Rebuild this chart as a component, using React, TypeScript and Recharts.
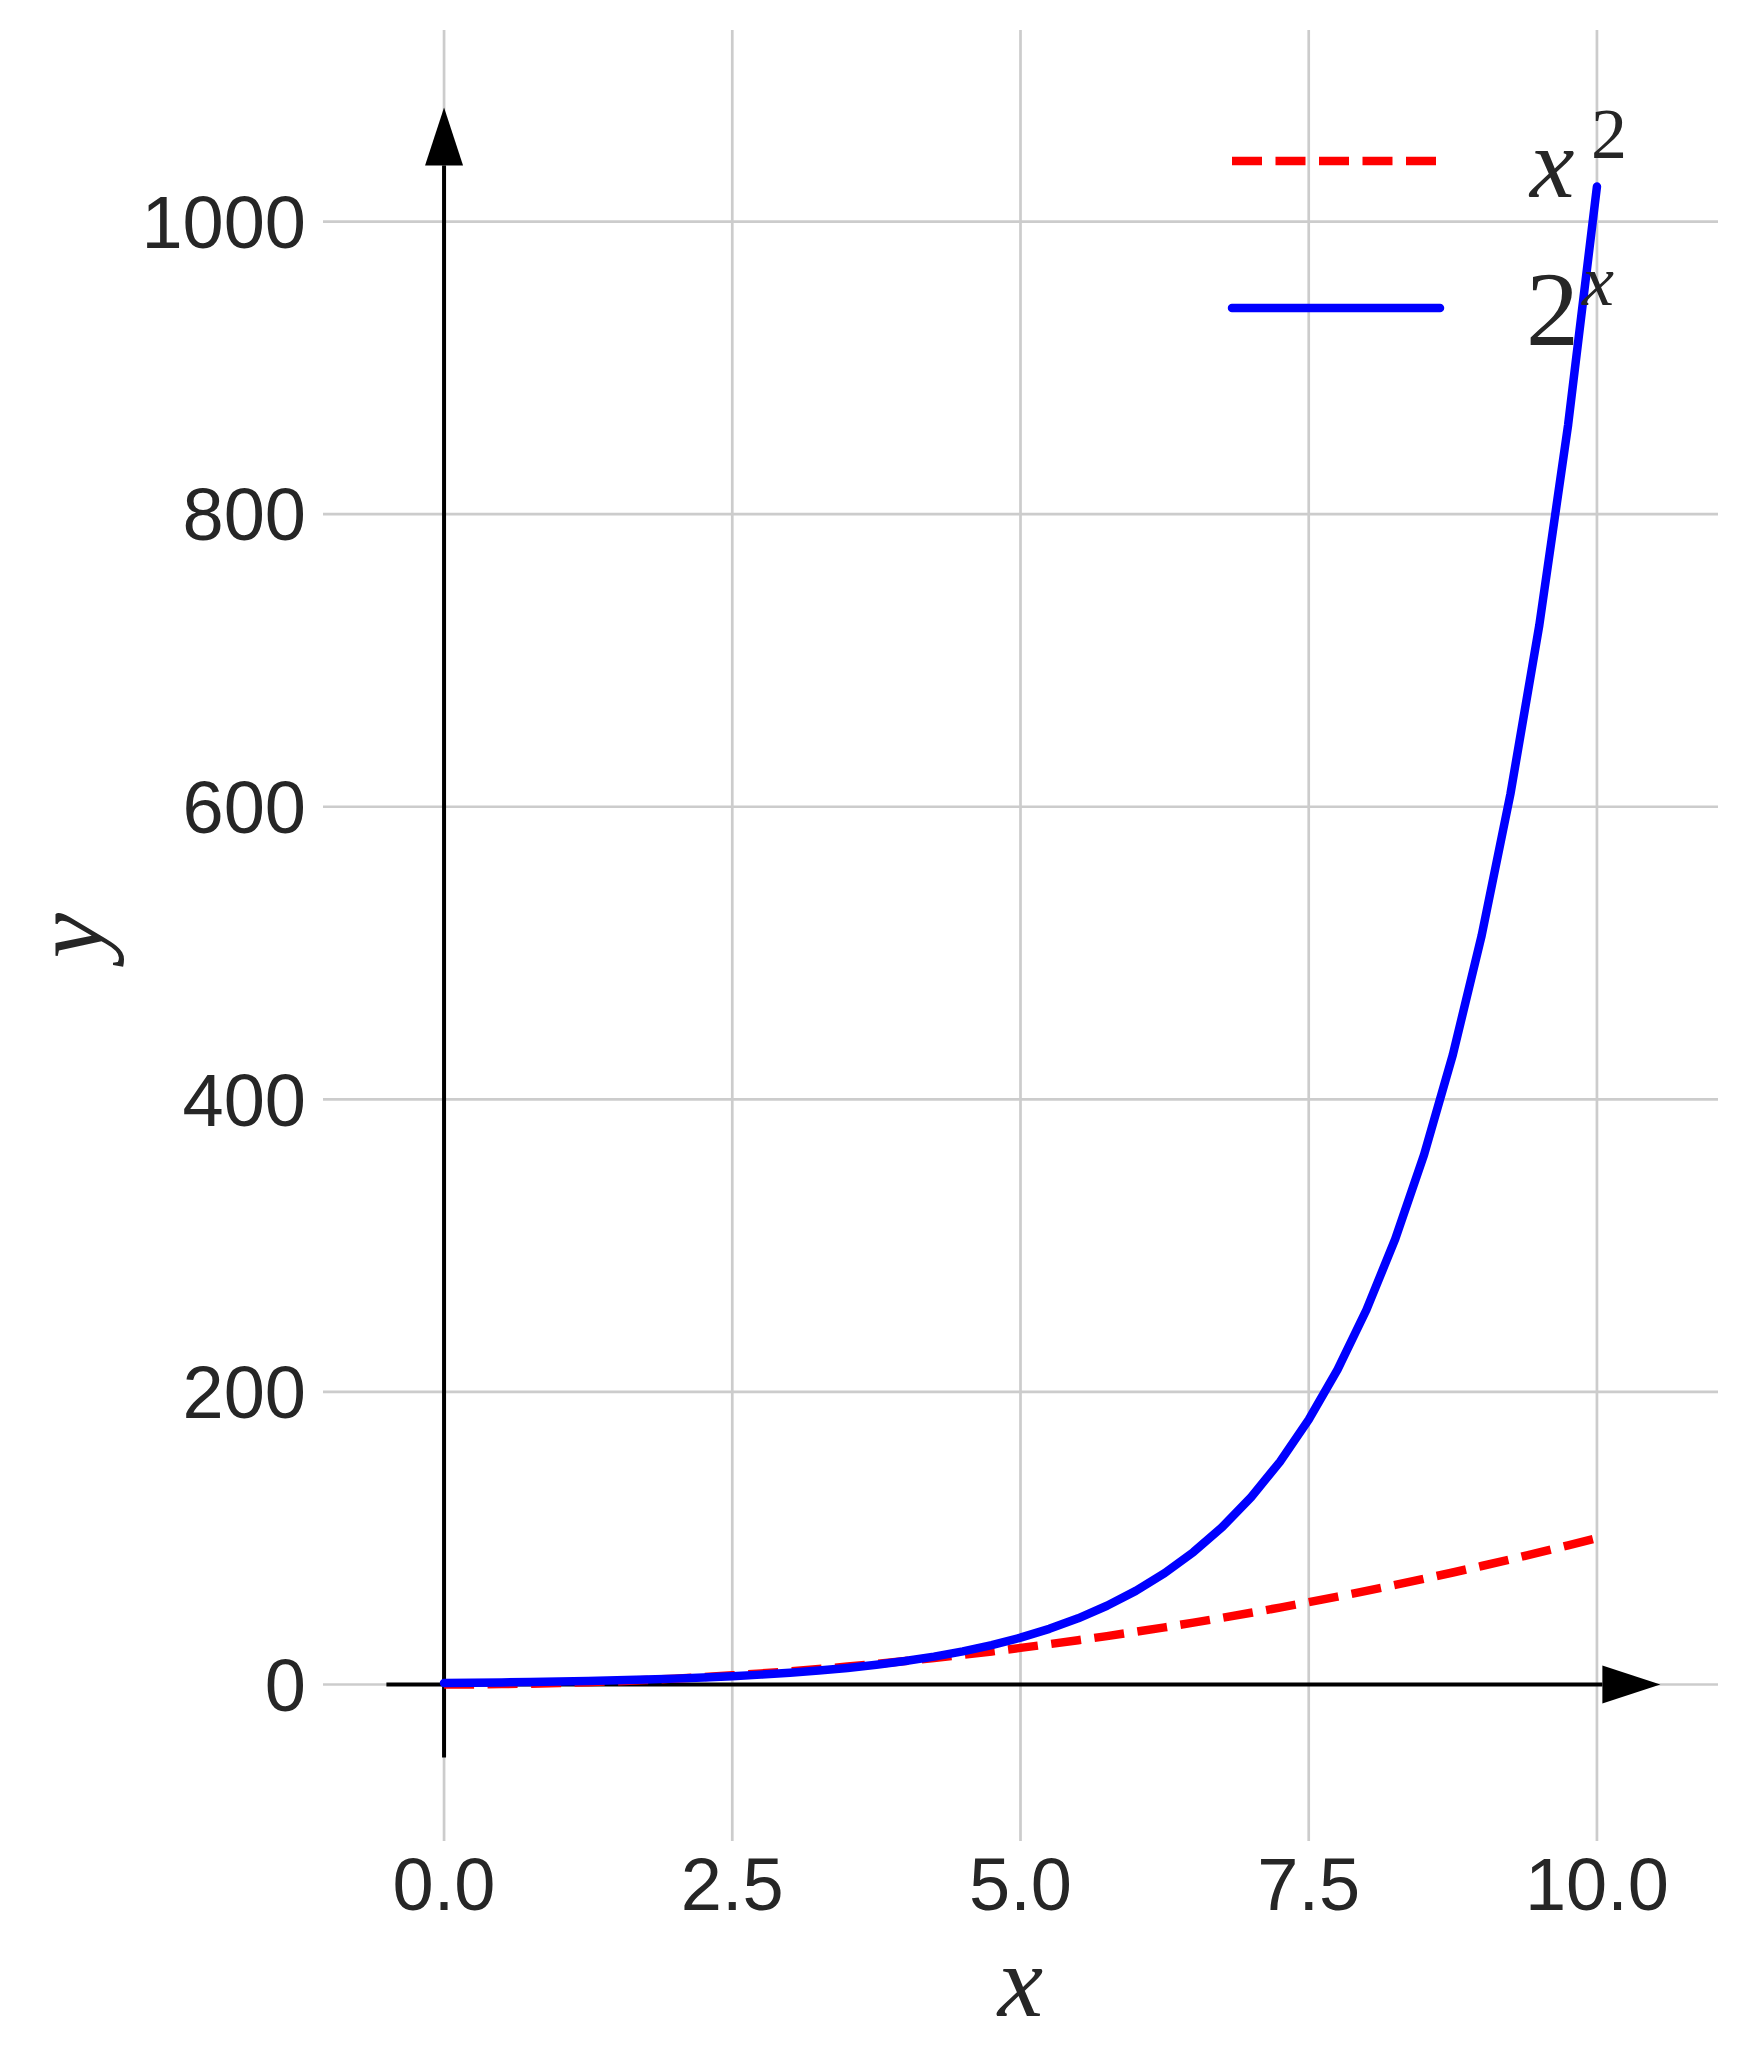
import React from "react";
import {
  LineChart,
  Line,
  XAxis,
  YAxis,
  CartesianGrid,
  ReferenceLine,
  Legend,
} from "recharts";

// sample points along x
const xValues = [
  0, 0.25, 0.5, 0.75, 1, 1.25, 1.5, 1.75, 2, 2.25, 2.5, 2.75, 3, 3.25, 3.5,
  3.75, 4, 4.25, 4.5, 4.75, 5, 5.25, 5.5, 5.75, 6, 6.25, 6.5, 6.75, 7, 7.25,
  7.5, 7.75, 8, 8.25, 8.5, 8.75, 9, 9.25, 9.5, 9.75, 10,
];

const squareValues = [
  0, 0.06, 0.25, 0.56, 1, 1.56, 2.25, 3.06, 4, 5.06, 6.25, 7.56, 9, 10.56,
  12.25, 14.06, 16, 18.06, 20.25, 22.56, 25, 27.56, 30.25, 33.06, 36, 39.06,
  42.25, 45.56, 49, 52.56, 56.25, 60.06, 64, 68.06, 72.25, 76.56, 81, 85.56,
  90.25, 95.06, 100,
];

const powerValues = [
  1, 1.19, 1.41, 1.68, 2, 2.38, 2.83, 3.36, 4, 4.76, 5.66, 6.73, 8, 9.51,
  11.31, 13.45, 16, 19.03, 22.63, 26.91, 32, 38.05, 45.25, 53.82, 64, 76.11,
  90.51, 107.6, 128, 152.2, 181, 215.3, 256, 304.4, 362, 430.5, 512, 608.9,
  724.1, 861.1, 1024,
];

const xTicks = [0, 2.5, 5, 7.5, 10];
const yTicks = [0, 200, 400, 600, 800, 1000];

// axis arrows: start and tip, in data units
const xArrow = [-0.5, 10.55];
const yArrow = [-50, 1078];

const data = xValues.map((x, i) => ({
  x,
  square: squareValues[i],
  power: powerValues[i],
}));

const tickStyle = {
  fontFamily: '"Liberation Sans", Arial, sans-serif',
  fontSize: 74,
  fill: "#262626",
};

const mathFont = '"Liberation Serif", "Times New Roman", serif';

function ArrowShape(props: any) {
  const { x1, y1, x2, y2 } = props;
  const len = Math.hypot(x2 - x1, y2 - y1) || 1;
  const ux = (x2 - x1) / len;
  const uy = (y2 - y1) / len;
  const headLen = 58;
  const half = 19;
  const bx = x2 - ux * headLen;
  const by = y2 - uy * headLen;
  return (
    <g>
      <line x1={x1} y1={y1} x2={bx} y2={by} stroke="#000" strokeWidth={4} />
      <polygon
        points={`${x2},${y2} ${bx - uy * half},${by + ux * half} ${bx + uy * half},${by - ux * half}`}
        fill="#000"
      />
    </g>
  );
}

const renderLegend = () => (
  <svg width={1748} height={400} style={{ display: "block" }}>
    <line
      x1={1232}
      y1={161}
      x2={1440}
      y2={161}
      stroke="#ff0000"
      strokeWidth={8.5}
      strokeDasharray="30 13.5"
    />
    <text fontFamily={mathFont} fill="#262626">
      <tspan x={1530} y={197} fontSize={100} fontStyle="italic">
        x
      </tspan>
      <tspan x={1591} y={158} fontSize={72}>
        2
      </tspan>
    </text>
    <line
      x1={1232}
      y1={308}
      x2={1440}
      y2={308}
      stroke="#0000ff"
      strokeWidth={8.5}
      strokeLinecap="round"
    />
    <text fontFamily={mathFont} fill="#262626">
      <tspan x={1526} y={345} fontSize={106}>
        2
      </tspan>
      <tspan x={1582} y={305} fontSize={72} fontStyle="italic">
        x
      </tspan>
    </text>
  </svg>
);

export default function App() {
  return (
    <div
      style={{
        position: "absolute",
        left: 0,
        top: 0,
        width: 1748,
        height: 2067,
        background: "#fff",
      }}
    >
      <LineChart
        width={1748}
        height={2067}
        data={data}
        margin={{ top: 30, right: 30, bottom: 0, left: 0 }}
      >
        <CartesianGrid stroke="#cccccc" strokeWidth={2.7} syncWithTicks />
        <XAxis
          dataKey="x"
          type="number"
          domain={[-1.05, 11.05]}
          ticks={xTicks}
          tickFormatter={(v: number) => v.toFixed(1)}
          allowDataOverflow
          height={226}
          tickSize={14}
          tickMargin={2}
          tickLine={false}
          axisLine={false}
          tick={tickStyle}
          label={{
            value: "x",
            position: "insideBottom",
            offset: 51,
            style: {
              fontFamily: mathFont,
              fontStyle: "italic",
              fontSize: 102,
              fill: "#262626",
            },
          }}
        />
        <YAxis
          type="number"
          domain={[-107, 1131]}
          ticks={yTicks}
          allowDataOverflow
          width={323}
          tickSize={15}
          tickMargin={2}
          tickLine={false}
          axisLine={false}
          tick={tickStyle}
          label={{
            value: "y",
            angle: -90,
            position: "insideLeft",
            offset: 66,
            style: {
              textAnchor: "middle",
              fontFamily: mathFont,
              fontStyle: "italic",
              fontSize: 102,
              fill: "#262626",
            },
          }}
        />
        <ReferenceLine
          segment={[
            { x: xArrow[0], y: 0 },
            { x: xArrow[1], y: 0 },
          ]}
          shape={ArrowShape}
        />
        <ReferenceLine
          segment={[
            { x: 0, y: yArrow[0] },
            { x: 0, y: yArrow[1] },
          ]}
          shape={ArrowShape}
        />
        <Legend
          layout="horizontal"
          verticalAlign="middle"
          align="center"
          content={renderLegend}
          wrapperStyle={{ left: 0, top: 0, width: 1748, height: 400 }}
        />
        <Line
          type="linear"
          dataKey="square"
          name="x^2"
          stroke="#ff0000"
          strokeWidth={8.5}
          strokeDasharray="30 13.5"
          dot={false}
          activeDot={false}
          isAnimationActive={false}
        />
        <Line
          type="linear"
          dataKey="power"
          name="2^x"
          stroke="#0000ff"
          strokeWidth={8.5}
          strokeLinecap="round"
          strokeLinejoin="round"
          dot={false}
          activeDot={false}
          isAnimationActive={false}
        />
      </LineChart>
    </div>
  );
}
